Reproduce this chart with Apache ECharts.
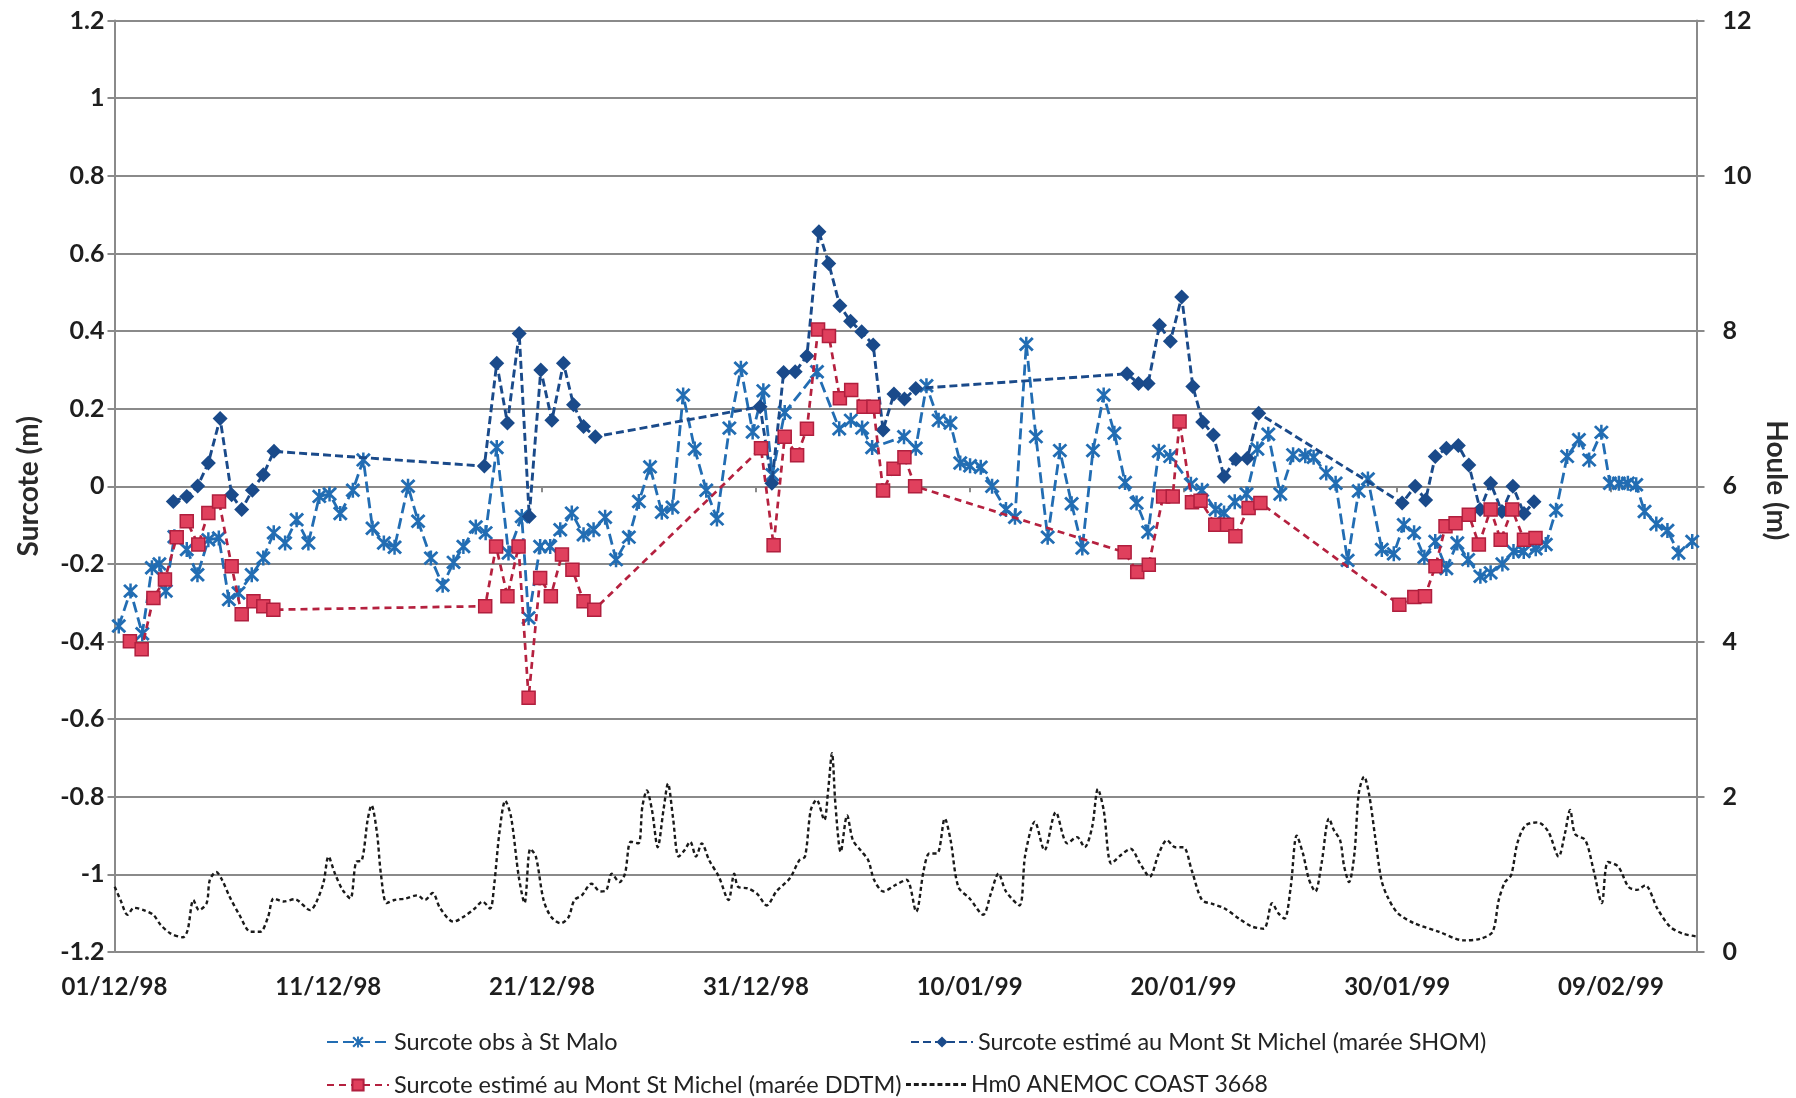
<!DOCTYPE html>
<html>
<head>
<meta charset="utf-8">
<script src="https://cdn.jsdelivr.net/npm/echarts@6/dist/echarts.min.js"></script>
<style>
html,body{margin:0;padding:0;background:#ffffff;}
#chart{width:1796px;height:1098px;}
</style>
</head>
<body>
<div id="chart"></div>
<script>
// x positions are days after 01/12/98 00:00
const xTickLabels = ['01/12/98','11/12/98','21/12/98','31/12/98','10/01/99','20/01/99','30/01/99','09/02/99'];

const obsDays = [0.2,0.75,1.3,1.75,2.1,2.4,2.8,3.38,3.88,4.39,4.88,5.35,5.8,6.42,6.96,7.45,7.98,8.52,9.07,9.58,10.06,10.56,11.15,11.64,12.07,12.6,13.1,13.73,14.2,14.8,15.35,15.86,16.32,16.9,17.36,17.88,18.43,19.05,19.37,19.91,20.38,20.85,21.39,21.94,22.41,22.95,23.46,24.06,24.53,25.05,25.6,26.1,26.6,27.14,27.68,28.18,28.76,29.3,29.85,30.35,30.77,31.35,32.86,33.9,34.44,34.97,35.44,36.93,37.48,37.98,38.55,39.1,39.56,40.02,40.52,41.05,41.7,42.12,42.65,43.1,43.65,44.22,44.77,45.27,45.77,46.27,46.77,47.27,47.81,48.35,48.85,49.38,50.35,50.87,51.5,51.9,52.4,52.95,53.46,53.97,54.53,55.13,55.7,56.09,56.68,57.12,57.68,58.2,58.63,59.28,59.84,60.31,60.79,61.27,61.78,62.3,62.81,63.32,63.89,64.37,64.92,65.44,65.92,66.48,66.95,67.43,67.95,68.5,68.98,69.55,69.95,70.37,70.79,71.18,71.57,72.12,72.64,73.16,73.8];
const obsValues = [-0.36,-0.27,-0.38,-0.21,-0.2,-0.27,-0.13,-0.163,-0.228,-0.138,-0.133,-0.292,-0.275,-0.228,-0.185,-0.12,-0.146,-0.086,-0.146,-0.026,-0.02,-0.07,-0.01,0.068,-0.108,-0.146,-0.157,0.0,-0.09,-0.185,-0.255,-0.196,-0.155,-0.105,-0.12,0.1,-0.172,-0.078,-0.339,-0.155,-0.155,-0.112,-0.069,-0.125,-0.112,-0.08,-0.189,-0.131,-0.039,0.05,-0.067,-0.054,0.235,0.096,-0.01,-0.084,0.15,0.304,0.14,0.246,0.03,0.19,0.295,0.148,0.17,0.15,0.1,0.128,0.098,0.259,0.17,0.163,0.06,0.053,0.049,0.0,-0.06,-0.08,0.366,0.128,-0.131,0.092,-0.045,-0.159,0.092,0.235,0.137,0.01,-0.043,-0.118,0.09,0.077,0.005,-0.01,-0.06,-0.069,-0.04,-0.02,0.096,0.134,-0.02,0.081,0.079,0.075,0.034,0.008,-0.191,-0.012,0.019,-0.163,-0.174,-0.099,-0.12,-0.183,-0.142,-0.212,-0.146,-0.189,-0.232,-0.223,-0.2,-0.168,-0.168,-0.161,-0.15,-0.062,0.077,0.12,0.068,0.139,0.008,0.008,0.008,0.004,-0.065,-0.097,-0.114,-0.172,-0.142];

const shomDays = [2.75,3.38,3.89,4.39,4.94,5.48,5.95,6.45,6.96,7.46,17.3,17.88,18.38,18.93,19.4,19.94,20.46,21.0,21.47,21.94,22.49,30.2,30.75,31.3,31.84,32.39,32.95,33.41,33.93,34.43,34.95,35.49,35.95,36.46,36.95,37.48,47.36,47.9,48.35,48.88,49.39,49.92,50.44,50.9,51.4,51.9,52.45,52.99,53.52,60.23,60.84,61.33,61.78,62.3,62.86,63.35,63.88,64.37,64.9,65.41,65.93,66.4];
const shomValues = [-0.039,-0.026,0.001,0.06,0.175,-0.022,-0.06,-0.01,0.03,0.09,0.052,0.317,0.163,0.394,-0.078,0.3,0.17,0.317,0.21,0.154,0.128,0.205,0.008,0.293,0.295,0.336,0.656,0.574,0.465,0.425,0.398,0.364,0.145,0.238,0.225,0.252,0.29,0.265,0.265,0.415,0.374,0.488,0.257,0.166,0.132,0.025,0.07,0.072,0.188,-0.043,0.0,-0.035,0.077,0.098,0.105,0.055,-0.06,0.008,-0.065,0.0,-0.07,-0.04];

const ddtmDays = [0.72,1.27,1.82,2.36,2.91,3.38,3.92,4.39,4.89,5.48,5.95,6.5,6.96,7.43,17.34,17.85,18.38,18.9,19.37,19.91,20.41,20.93,21.42,21.94,22.44,30.24,30.83,31.35,31.93,32.39,32.91,33.42,33.93,34.46,35.04,35.5,35.95,36.44,36.95,37.45,47.25,47.84,48.38,49.05,49.5,49.82,50.4,50.8,51.49,52.04,52.43,53.05,53.6,60.1,60.8,61.3,61.79,62.26,62.73,63.35,63.82,64.37,64.84,65.38,65.93,66.47];
const ddtmValues = [-0.399,-0.42,-0.288,-0.24,-0.131,-0.09,-0.15,-0.069,-0.039,-0.206,-0.33,-0.296,-0.309,-0.318,-0.309,-0.155,-0.283,-0.155,-0.545,-0.236,-0.283,-0.176,-0.215,-0.296,-0.318,0.098,-0.152,0.128,0.08,0.148,0.404,0.387,0.227,0.248,0.205,0.205,-0.011,0.045,0.075,0.0,-0.17,-0.221,-0.202,-0.026,-0.026,0.167,-0.041,-0.037,-0.099,-0.099,-0.129,-0.056,-0.043,-0.305,-0.285,-0.283,-0.206,-0.103,-0.095,-0.073,-0.15,-0.06,-0.138,-0.06,-0.138,-0.133];

const hm0Days = [0.01,0.28,0.61,0.91,1.36,1.81,2.16,2.61,3.2,3.42,3.69,3.95,4.31,4.46,4.76,5.03,5.39,5.84,6.37,6.82,7.18,7.45,7.9,8.43,9.15,9.42,9.78,10.01,10.31,10.67,11.03,11.3,11.57,11.84,12.02,12.28,12.46,12.73,13.09,13.63,14.16,14.52,14.88,15.24,15.86,16.31,16.85,17.21,17.57,17.75,18.01,18.28,18.55,18.91,19.18,19.45,19.71,20.07,20.43,20.88,21.24,21.51,21.86,22.31,22.72,22.99,23.26,23.62,23.88,24.15,24.51,24.69,24.9,25.14,25.41,25.68,25.89,26.12,26.39,26.66,26.93,27.2,27.47,27.82,28.27,28.72,28.99,29.17,29.62,30.06,30.51,30.96,31.59,32.03,32.3,32.57,32.84,33.2,33.38,33.56,33.73,33.97,34.27,34.54,34.9,35.26,35.53,35.97,36.51,37.05,37.5,37.85,38.12,38.48,38.84,39.11,39.47,40.0,40.63,40.99,41.35,41.7,42.33,42.6,43.05,43.5,44.03,44.57,45.02,45.38,45.73,46.0,46.27,46.63,47.08,47.53,47.97,48.42,48.85,49.23,49.62,50.0,50.39,50.87,51.35,51.93,52.6,53.18,53.76,54.15,54.44,54.73,55.02,55.3,55.59,55.88,56.17,56.46,56.81,57.04,57.33,57.52,57.75,58.0,58.2,58.45,58.68,58.97,59.26,59.55,60.03,60.8,61.96,63.11,63.88,64.46,64.75,65.04,65.33,65.62,66.0,66.58,67.07,67.55,67.84,68.09,68.32,68.8,69.19,69.57,69.86,70.34,70.82,71.21,71.6,72.17,72.75,73.33,74.0];
const hm0Values = [0.84,0.67,0.48,0.57,0.54,0.48,0.35,0.24,0.19,0.28,0.67,0.54,0.63,0.93,1.03,0.93,0.71,0.48,0.26,0.26,0.45,0.69,0.65,0.68,0.54,0.63,0.9,1.23,1.01,0.8,0.69,1.16,1.18,1.7,1.89,1.53,1.01,0.63,0.67,0.69,0.73,0.67,0.76,0.56,0.39,0.45,0.56,0.65,0.56,0.84,1.55,1.95,1.74,0.97,0.63,1.33,1.23,0.67,0.45,0.37,0.45,0.67,0.73,0.88,0.78,0.79,1.01,0.9,1.01,1.42,1.4,1.87,2.08,1.83,1.35,1.83,2.17,1.74,1.23,1.31,1.42,1.23,1.4,1.18,0.97,0.67,1.01,0.84,0.82,0.75,0.6,0.78,0.95,1.18,1.23,1.83,1.96,1.7,2.08,2.56,1.87,1.29,1.76,1.44,1.31,1.18,0.93,0.78,0.86,0.93,0.52,1.05,1.27,1.27,1.72,1.44,0.84,0.69,0.48,0.75,1.01,0.78,0.6,1.25,1.68,1.31,1.8,1.4,1.48,1.35,1.61,2.1,1.83,1.14,1.25,1.33,1.14,0.97,1.27,1.44,1.35,1.35,1.05,0.67,0.62,0.56,0.43,0.33,0.3,0.63,0.5,0.43,0.84,1.5,1.27,0.93,0.78,1.14,1.72,1.57,1.44,1.1,0.9,1.27,2.04,2.26,2.04,1.48,0.93,0.71,0.5,0.37,0.26,0.15,0.17,0.26,0.67,0.9,0.99,1.4,1.63,1.67,1.55,1.23,1.52,1.83,1.52,1.44,1.05,0.63,1.16,1.1,0.84,0.8,0.86,0.56,0.33,0.24,0.2];

const seriesNames = [
  'Surcote obs à St Malo',
  'Surcote estimé au Mont St Michel (marée SHOM)',
  'Surcote estimé au Mont St Michel (marée DDTM)',
  'Hm0 ANEMOC COAST 3668'
];

function pairs(xs, ys){ return xs.map((x,i)=>[x, ys[i]]); }

const starPath = 'path://M8.4,0L11.6,0L11.6,20L8.4,20Z M0.4,3L3,0.4L19.6,17L17,19.6Z M17,0.4L19.6,3L3,19.6L0.4,17Z';
const dashIcon = 'path://M0,0h5v3h-5z M8,0h5v3h-5z M16,0h5v3h-5z M24,0h5v3h-5z M32,0h5v3h-5z M40,0h5v3h-5z M48,0h5v3h-5z M56,0h5v3h-5z';
const xTickFont = {fontFamily:'Lato', fontWeight:'bold', fontSize:24, color:'#1e1e1e'};
const yTickFont = {fontFamily:'Lato', fontWeight:'bold', fontSize:25, color:'#1e1e1e'};
const gridColor = '#8a8a8a';
const legendText = {fontFamily:'Lato', fontSize:23.5, color:'#222'};

const chart = echarts.init(document.getElementById('chart'), null, {renderer:'canvas'});
chart.setOption({
  animation:false,
  backgroundColor:'#ffffff',
  grid:{left:114.5, right:99.5, top:20.6, bottom:146, containLabel:false, outerBoundsMode:'none'},
  legend:[
    {data:[seriesNames[0]], left:321, top:1025, itemWidth:62, itemHeight:14, textStyle:legendText},
    {data:[seriesNames[1]], left:905, top:1025, itemWidth:62, itemHeight:14, textStyle:legendText},
    {data:[seriesNames[2]], left:321, top:1068, itemWidth:62, itemHeight:14, textStyle:legendText},
    {data:[{name:seriesNames[3], icon:dashIcon}], left:901, top:1068, itemWidth:60, itemHeight:3, textStyle:{fontFamily:'Lato', fontSize:23, color:'#222'}}
  ],
  xAxis:{
    type:'value', min:0, max:74, interval:10,
    axisLine:{show:true, lineStyle:{color:gridColor, width:2}},
    axisTick:{show:true, length:6, lineStyle:{color:gridColor, width:2}},
    axisLabel:Object.assign({margin:23, showMaxLabel:false, formatter:v=>{const i=v/10; return Number.isInteger(i)&&xTickLabels[i]?xTickLabels[i]:'';}}, xTickFont),
    splitLine:{show:false}
  },
  yAxis:[
    {
      type:'value', min:-1.2, max:1.2, interval:0.2, position:'left',
      name:'Surcote (m)', nameLocation:'middle', nameGap:72,
      nameTextStyle:{fontFamily:'Lato', fontSize:28, fontWeight:'bold', color:'#2a2a2a'},
      axisLine:{show:true, lineStyle:{color:gridColor, width:2}},
      axisTick:{show:true, length:7, lineStyle:{color:gridColor, width:2}},
      axisLabel:Object.assign({margin:10, formatter:v=>String(Math.round(v*10)/10)}, yTickFont),
      splitLine:{show:true, lineStyle:{color:gridColor, width:2}}
    },
    {
      type:'value', min:0, max:12, interval:2, position:'right',
      name:'Houle (m)', nameLocation:'middle', nameGap:55, nameRotate:-90,
      nameTextStyle:{fontFamily:'Lato', fontSize:28, fontWeight:'bold', color:'#2a2a2a', padding:[0,12,0,0]},
      axisLine:{show:true, lineStyle:{color:gridColor, width:2}},
      axisTick:{show:true, length:8, lineStyle:{color:gridColor, width:2}},
      axisLabel:Object.assign({margin:26}, yTickFont),
      splitLine:{show:false}
    }
  ],
  series:[
    {
      name:seriesNames[0], type:'line', data:pairs(obsDays, obsValues),
      symbol:starPath, symbolSize:15, showSymbol:true, showAllSymbol:true,
      itemStyle:{color:'#226DB3'},
      lineStyle:{color:'#226DB3', width:2.8, type:[11,5]}, z:2
    },
    {
      name:seriesNames[1], type:'line', data:pairs(shomDays, shomValues),
      symbol:'diamond', symbolSize:15, showSymbol:true, showAllSymbol:true,
      itemStyle:{color:'#1A4A8A'},
      lineStyle:{color:'#1A4A8A', width:2.9, type:[8,4]}, z:3
    },
    {
      name:seriesNames[2], type:'line', data:pairs(ddtmDays, ddtmValues),
      symbol:'rect', symbolSize:13, showSymbol:true, showAllSymbol:true,
      itemStyle:{color:'#E0405D', borderColor:'#B01F3E', borderWidth:1.5},
      lineStyle:{color:'#B5213F', width:2.7, type:[7,5]}, z:4
    },
    {
      name:seriesNames[3], type:'line', yAxisIndex:1, data:pairs(hm0Days, hm0Values),
      symbol:'none', smooth:0.3,
      itemStyle:{color:'#1a1a1a'},
      lineStyle:{color:'#1a1a1a', width:2.4, type:[4,3]}, z:5
    }
  ]
});
</script>
</body>
</html>
